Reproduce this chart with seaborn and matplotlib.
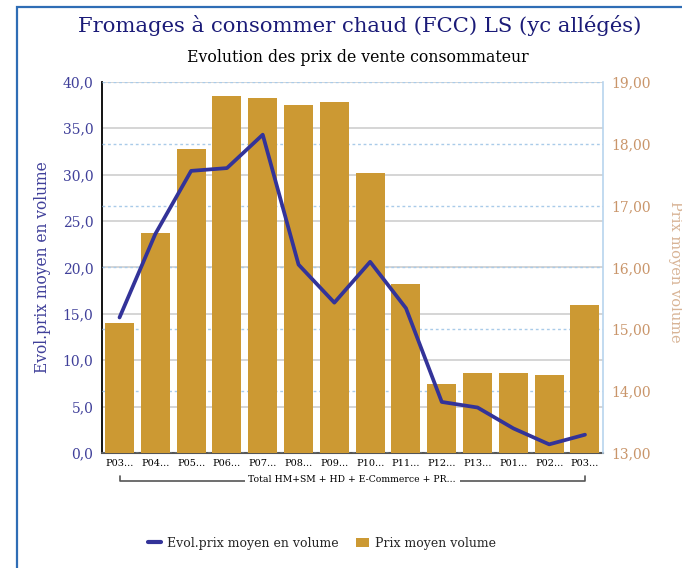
import numpy as np
import matplotlib
matplotlib.use("Agg")
import matplotlib.pyplot as plt
import matplotlib.transforms as mtransforms
from matplotlib.patches import Rectangle, Patch
from matplotlib.lines import Line2D
import seaborn as sns

# ---- data ----
periodes = ["P03...", "P04...", "P05...", "P06...", "P07...", "P08...", "P09...",
            "P10...", "P11...", "P12...", "P13...", "P01...", "P02...", "P03..."]
prix_moyen = [15.10, 16.56, 17.92, 18.77, 18.73, 18.63, 18.68,
              17.53, 15.73, 14.11, 14.29, 14.29, 14.26, 15.40]
evol_prix = [14.6, 23.6, 30.4, 30.7, 34.3, 20.3, 16.2,
             20.6, 15.6, 5.5, 4.9, 2.65, 0.93, 1.97]
groupe = "Total HM+SM + HD + E-Commerce + PR..."
left_ticks = [0, 5, 10, 15, 20, 25, 30, 35, 40]
right_ticks = [13, 14, 15, 16, 17, 18, 19]

titre = "Fromages à consommer chaud (FCC) LS (yc allégés)"
sous_titre = "Evolution des prix de vente consommateur"
label_gauche = "Evol.prix moyen en volume"
label_droite = "Prix moyen volume"

# ---- style ----
sns.set_theme(style="white")
plt.rcParams["font.family"] = ["DejaVu Serif"]

C_BAR = "#cc9933"
C_LINE = "#333399"
C_LEFT = "#40409a"
C_RIGHT = "#c9956a"
C_GRID = "#d2d2d2"
C_GRID2 = "#a9cbe9"

fig = plt.figure(figsize=(6.82, 5.68), dpi=100)
fig.patch.set_facecolor("white")

ax = fig.add_axes([0.149, 0.2025, 0.735, 0.6535])
x = np.arange(len(periodes))

# left axis: scale + grey grid
ax.set_ylim(0, 40)
ax.set_yticks(left_ticks)
ax.set_yticklabels([f"{v:.1f}".replace(".", ",") for v in left_ticks],
                   color=C_LEFT, fontsize=10)
ax.grid(axis="y", color=C_GRID, linewidth=1.3)
ax.grid(axis="x", visible=False)
ax.set_axisbelow(True)

# right axis: bars
ax2 = ax.twinx()
sns.barplot(x=x, y=prix_moyen, ax=ax2, color=C_BAR, width=0.81,
            orient="x", saturation=1, linewidth=0, edgecolor=C_BAR, zorder=2)
ax2.set_ylim(13, 19)
ax2.set_yticks(right_ticks)
ax2.set_yticklabels([f"{v:.2f}".replace(".", ",") for v in right_ticks],
                    color=C_RIGHT, fontsize=10)
ax2.grid(axis="y", color=C_GRID2, linewidth=1.0, linestyle=(0, (2, 2)))
ax2.grid(axis="x", visible=False)
ax2.set_axisbelow(True)
ax2.set_ylabel("")

# line on top
ax3 = ax.twinx()
sns.lineplot(x=x, y=evol_prix, ax=ax3, color=C_LINE, linewidth=2.7)
ax3.set_ylim(0, 40)
ax3.set_yticks([])
ax3.set_ylabel("")
for s in ax3.spines.values():
    s.set_visible(False)

for a in (ax, ax2, ax3):
    a.set_xlim(-0.5, len(periodes) - 0.5)
    a.tick_params(length=0)

ax.set_xticks(x)
ax.set_xticklabels(periodes, fontsize=7.0, color="black")
ax.tick_params(axis="x", pad=4)
ax.tick_params(axis="y", pad=6)
ax2.tick_params(axis="y", pad=6)

# spines
for a in (ax, ax2):
    a.spines["top"].set_visible(False)
ax.spines["left"].set_color("black")
ax.spines["left"].set_linewidth(1.3)
ax.spines["bottom"].set_color("#555555")
ax.spines["bottom"].set_linewidth(1.5)
ax.spines["right"].set_visible(False)
ax2.spines["left"].set_visible(False)
ax2.spines["bottom"].set_visible(False)
ax2.spines["right"].set_color("#b8d4ee")
ax2.spines["right"].set_linewidth(1.2)

ax.set_ylabel(label_gauche, color=C_LEFT, fontsize=11.2, labelpad=8)
ax.set_xlabel("")
fig.text(675 / 682, 1 - 272 / 568, label_droite, rotation=270,
         ha="center", va="center", color="#d8b496", fontsize=10.5)

# group bracket under the tick labels
tr = mtransforms.blended_transform_factory(ax.transData, fig.transFigure)
yb = 1 - 481 / 568
yt = 1 - 476 / 568
ax.plot([0, 0, 13, 13], [yt, yb, yb, yt], transform=tr, color="#555555",
        linewidth=1.2, clip_on=False)
ax.text(6.5, 1 - 479 / 568, groupe, transform=tr, ha="center", va="center",
        fontsize=6.7, color="black",
        bbox=dict(facecolor="white", edgecolor="none", pad=2.5))

# titles
fig.text(0.528, 1 - 26 / 568, titre, ha="center", va="center",
         color="#1b1b78", fontsize=15.2)
fig.text(0.524, 1 - 57 / 568, sous_titre, ha="center", va="center",
         color="black", fontsize=11.3)

# legend
handles = [Line2D([0], [0], color=C_LINE, linewidth=3),
           Patch(facecolor=C_BAR, edgecolor="none")]
fig.legend(handles, [label_gauche, "Prix moyen volume"], loc="center",
           bbox_to_anchor=(322 / 682, 1 - 543 / 568), ncol=2, frameon=False,
           fontsize=9.0, handlelength=1.0, handletextpad=0.5, columnspacing=1.4)

# outer frame
fig.patches.append(Rectangle((17 / 682, -0.5), 5, 0.5 + (1 - 7 / 568),
                             transform=fig.transFigure, fill=False,
                             edgecolor="#2f6db5", linewidth=1.6))

fig.savefig("out.png", dpi=100)
